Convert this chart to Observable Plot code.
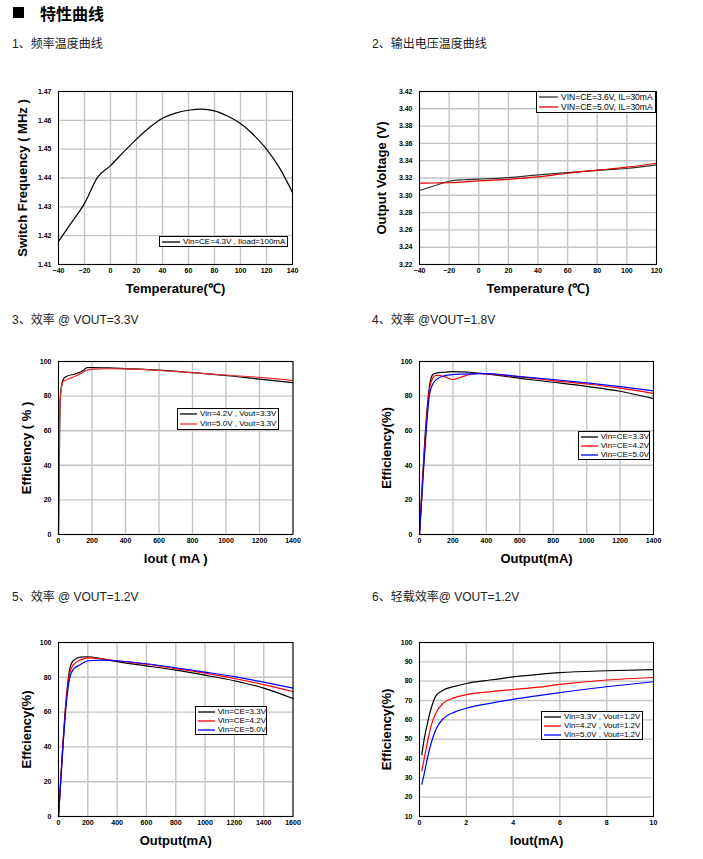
<!DOCTYPE html>
<html><head><meta charset="utf-8">
<script src="https://cdn.jsdelivr.net/npm/d3@7"></script>
<script src="https://cdn.jsdelivr.net/npm/@observablehq/plot@0.6"></script>
<style>
body{margin:0;background:#fff;}
#page{position:relative;width:703px;height:859px;overflow:hidden;font-family:"Liberation Sans",Arial,sans-serif;}
.sec{position:absolute;font-size:12px;color:#222;line-height:1;white-space:nowrap;font-family:"Liberation Sans","Noto Sans CJK SC",sans-serif;}
.hdr{position:absolute;left:40px;top:5px;font-size:16px;font-weight:bold;color:#000;font-family:"Noto Sans CJK SC",sans-serif;line-height:1;}
.sq{position:absolute;left:13px;top:7px;width:11px;height:11px;background:#000;}
.chart{position:absolute;}
.chart svg{overflow:visible;}
g[aria-label="x-axis label"], g[aria-label="y-axis label"]{font-size:13px !important;font-weight:bold !important;fill:#000;}
.legend{position:absolute;border:1px solid #000;background:#fff;font-size:8px;line-height:1;color:#000;box-sizing:border-box;white-space:nowrap;font-family:"Liberation Sans",Arial,sans-serif;}
.legend .row{display:flex;align-items:center;}
.legend .ln{display:block;margin:0 3px 0 2px;}
</style>
</head><body>
<div id="page"></div>
<script>
// ---------- data ----------
// 1: switching frequency vs temperature
const tempF = [-40,-30,-20,-10,0,10,20,30,40,50,60,70,80,90,100,110,120,130,140];
const freq  = [1.418,1.4245,1.4312,1.4402,1.4443,1.449,1.4535,1.4575,1.4607,1.4625,1.4635,1.4639,1.4633,1.4615,1.4589,1.455,1.450,1.4435,1.435];
const tempFTicks = [-40,-20,0,20,40,60,80,100,120,140];
const freqTicks = [1.41,1.42,1.43,1.44,1.45,1.46,1.47];

// 2: output voltage vs temperature
const tempV  = [-40,-30,-20,-10,0,20,40,60,80,100,120];
const vout36 = [3.3056,3.311,3.3162,3.318,3.3187,3.3205,3.3236,3.3262,3.3288,3.331,3.3352];
const vout50 = [3.314,3.3142,3.3145,3.3155,3.3167,3.3185,3.3213,3.3255,3.329,3.3325,3.3371];
const tempVTicks = [-40,-20,0,20,40,60,80,100,120];
const voutTicks = [3.22,3.24,3.26,3.28,3.30,3.32,3.34,3.36,3.38,3.40,3.42];

// 3: efficiency @ Vout=3.3V
const iout3    = [0,5,10,20,30,50,100,150,170,200,300,400,600,800,1000,1200,1400];
const eff3_42  = [0,43,77.5,87,90,91.5,92.8,95,96.5,96.5,96.3,95.9,95,93.6,91.9,89.8,87.8];
const eff3_50  = [0,55,78,86,88.5,89.5,91.5,94,95,95.5,95.8,95.7,94.8,93.5,92.2,90.8,89];
const iout3Ticks = [0,200,400,600,800,1000,1200,1400];
const effTicks = [0,20,40,60,80,100];

// 4: efficiency @ Vout=1.8V
const iout4   = [0,20,40,60,80,100,150,200,250,300,350,400,600,800,1000,1200,1400];
const eff4_33 = [0,35,66,86,92.5,93.3,93.8,94.1,94,93.8,93.3,92.8,90.3,88,85.6,82.8,78.5];
const eff4_42 = [0,33,63,84,90.5,92,91.3,89.6,91,92.5,93,92.9,91.1,89,87,84.6,81.6];
const eff4_50 = [0,31,60,81,87,89.5,91.8,92.5,92.7,92.8,93,93,91.3,89.6,87.7,85.5,83];
const iout4Ticks = [0,200,400,600,800,1000,1200,1400];

// 5: efficiency @ Vout=1.2V
const iout5   = [0,25,50,75,100,150,200,300,400,600,800,1000,1200,1400,1600];
const eff5_33 = [0,35,65,84,89.5,91.6,91.8,90.5,89,86.6,84.1,81.2,78,73.8,67.8];
const eff5_42 = [0,34,64,82,87,90,91.2,90.6,89.5,87.5,85,82.4,79.3,75.8,71.8];
const eff5_50 = [0,33,62,79,84.5,87.3,89.5,89.9,89.5,87.8,85.5,83,80.4,77.2,73.8];
const iout5Ticks = [0,200,400,600,800,1000,1200,1400,1600];

// 6: light-load efficiency @ Vout=1.2V
const iout6   = [0.1,0.2,0.3,0.5,0.7,1,1.5,2,3,4,5,6,8,10];
const eff6_33 = [42,50,56,66,72.4,75.3,77.3,78.8,80.6,82.2,83.4,84.4,85.4,86];
const eff6_42 = [33.5,40,46,57,63.5,68.5,71.5,73,74.5,75.7,76.8,78.3,80.6,81.9];
const eff6_50 = [26.7,32,38,48,55,60.5,64,66,68.5,70.6,72.4,74.1,77.1,79.7];
const iout6Ticks = [0,2,4,6,8,10];
const eff6Ticks = [10,20,30,40,50,60,70,80,90,100];

const BLACK = "#000", RED = "#ff0000", BLUE = "#0000ff";

// ---------- layout helpers ----------
const page = document.getElementById("page");
function add(html){ page.insertAdjacentHTML("beforeend", html); }

add('<div class="sq"></div><div class="hdr">特性曲线</div>');
const sections = [
  ["1、频率温度曲线", 12, 38],
  ["2、输出电压温度曲线", 372, 38],
  ["3、效率 @ VOUT=3.3V", 12, 314],
  ["4、效率 @VOUT=1.8V", 372, 314],
  ["5、效率 @ VOUT=1.2V", 12, 591],
  ["6、轻载效率@ VOUT=1.2V", 372, 591]
];
for (const [t,x,y] of sections) add(`<div class="sec" style="left:${x}px;top:${y}px">${t}</div>`);

function chart(o){
  const mL=52, mR=14, mT=12, mB=44;
  const data = [];
  o.series.forEach((s,i)=> s.x.forEach((xv,j)=> data.push({x:xv, y:s.y[j], k:i})));
  const p = Plot.plot({
    width: o.R-o.L+mL+mR, height: o.B-o.T+mT+mB,
    marginLeft:mL, marginRight:mR, marginTop:mT, marginBottom:mB,
    style:{background:"transparent", fontFamily:"Liberation Sans, Arial, sans-serif", overflow:"visible"},
    x:{domain:o.xDomain},
    y:{domain:o.yDomain},
    marks:[
      Plot.gridX(o.xTicks,{stroke:"#c4c4c4",strokeOpacity:1,strokeWidth:1.4}),
      Plot.gridY(o.yTicks,{stroke:"#c4c4c4",strokeOpacity:1,strokeWidth:1.4}),
      Plot.axisX(o.xTicks,{tickSize:0,tickPadding:4,fontSize:7,fontWeight:"bold",tickFormat:d3.format("d"),
        label:o.xLabel,labelAnchor:"center",labelOffset:o.xOff,labelArrow:"none"}),
      Plot.axisY(o.yTicks,{tickSize:0,tickPadding:7,fontSize:7,fontWeight:"bold",tickFormat:o.yFormat,
        label:o.yLabel,labelAnchor:"center",labelOffset:o.yOff,labelArrow:"none"}),
      ...o.series.map((s,i)=>Plot.line(data.filter(d=>d.k===i),{x:"x",y:"y",stroke:s.color,strokeWidth:1.2,curve:"monotone-x"})),
      Plot.frame({stroke:"#000",strokeWidth:1})
    ]
  });
  const div = document.createElement("div");
  div.className="chart";
  div.style.left=(o.L-mL)+"px"; div.style.top=(o.T-mT)+"px";
  div.appendChild(p);
  page.appendChild(div);
  // legend
  const lg = o.legend;
  let rows = o.series.map(s=>`<div class="row" style="height:${lg.rh}px"><svg class="ln" width="${lg.lw}" height="4"><line x1="0" x2="${lg.lw}" y1="2" y2="2" stroke="${s.color}" stroke-width="1.3"/></svg><span>${s.name}</span></div>`).join("");
  add(`<div class="legend" style="left:${lg.x}px;top:${lg.y}px;width:${lg.w}px;font-size:${lg.fs}px">${rows}</div>`);
}

chart({L:58,R:292,T:91,B:264, xDomain:[-40,140], yDomain:[1.41,1.47], xTicks:tempFTicks, yTicks:freqTicks,
  yFormat:d3.format(".2f"), xLabel:"Temperature(℃)", yLabel:"Switch Frequency ( MHz )", xOff:28, yOff:41,
  series:[{name:"Vin=CE=4.3V , Iload=100mA", color:BLACK, x:tempF, y:freq}],
  legend:{x:159,y:236,w:129,rh:9,lw:18,fs:8}});

chart({L:419,R:656,T:91,B:264, xDomain:[-40,120], yDomain:[3.22,3.42], xTicks:tempVTicks, yTicks:voutTicks,
  yFormat:d3.format(".2f"), xLabel:"Temperature (℃)", yLabel:"Output Voltage (V)", xOff:28, yOff:43,
  series:[{name:"VIN=CE=3.6V, IL=30mA", color:"#333", x:tempV, y:vout36},
          {name:"VIN=CE=5.0V, IL=30mA", color:"#e00000", x:tempV, y:vout50}],
  legend:{x:536,y:91,w:120,rh:10,lw:19,fs:8.5}});

chart({L:58,R:292.5,T:361,B:534, xDomain:[0,1400], yDomain:[0,100], xTicks:iout3Ticks, yTicks:effTicks,
  yFormat:d3.format("d"), xLabel:"Iout ( mA )", yLabel:"Efficiency ( % )", xOff:28, yOff:37,
  series:[{name:"Vin=4.2V , Vout=3.3V", color:BLACK, x:iout3, y:eff3_42},
          {name:"Vin=5.0V , Vout=3.3V", color:"#f03030", x:iout3, y:eff3_50}],
  legend:{x:177,y:408,w:102,rh:10,lw:17,fs:8}});

chart({L:419,R:653,T:361,B:534, xDomain:[0,1400], yDomain:[0,100], xTicks:iout4Ticks, yTicks:effTicks,
  yFormat:d3.format("d"), xLabel:"Output(mA)", yLabel:"Efficiency(%)", xOff:28, yOff:38,
  series:[{name:"Vin=CE=3.3V", color:BLACK, x:iout4, y:eff4_33},
          {name:"Vin=CE=4.2V", color:RED, x:iout4, y:eff4_42},
          {name:"Vin=CE=5.0V", color:BLUE, x:iout4, y:eff4_50}],
  legend:{x:578,y:431,w:72,rh:9,lw:17,fs:8}});

chart({L:58,R:292.5,T:642,B:816, xDomain:[0,1600], yDomain:[0,100], xTicks:iout5Ticks, yTicks:effTicks,
  yFormat:d3.format("d"), xLabel:"Output(mA)", yLabel:"Effciency(%)", xOff:28, yOff:37,
  series:[{name:"Vin=CE=3.3V", color:BLACK, x:iout5, y:eff5_33},
          {name:"Vin=CE=4.2V", color:RED, x:iout5, y:eff5_42},
          {name:"Vin=CE=5.0V", color:BLUE, x:iout5, y:eff5_50}],
  legend:{x:195,y:706,w:72,rh:9,lw:17,fs:8}});

chart({L:419,R:653,T:642,B:816, xDomain:[0,10], yDomain:[10,100], xTicks:iout6Ticks, yTicks:eff6Ticks,
  yFormat:d3.format("d"), xLabel:"Iout(mA)", yLabel:"Efficiency(%)", xOff:28, yOff:38,
  series:[{name:"Vin=3.3V , Vout=1.2V", color:BLACK, x:iout6, y:eff6_33},
          {name:"Vin=4.2V , Vout=1.2V", color:RED, x:iout6, y:eff6_42},
          {name:"Vin=5.0V , Vout=1.2V", color:BLUE, x:iout6, y:eff6_50}],
  legend:{x:541,y:711,w:102,rh:9,lw:17,fs:8}});
</script>
</body></html>
